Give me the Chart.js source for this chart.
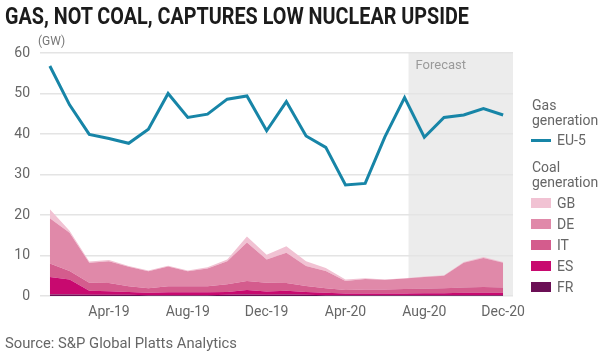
<!DOCTYPE html>
<html>
<head>
<meta charset="utf-8">
<script src="https://cdn.jsdelivr.net/npm/chart.js@4.4.1/dist/chart.umd.min.js"></script>
<style>
  body { margin: 0; background: #fff; font-family: Roboto, sans-serif; }
  #wrap { position: relative; width: 610px; height: 358px; overflow: hidden; }
  canvas { position: absolute; left: 0; top: 0; }
  .txt { position: absolute; white-space: nowrap; transform-origin: 0 0; }
  #title { left: 5px; top: 4px; font-weight: bold; font-size: 24px; line-height: 24px; color: #1b1b1b; }
  #source { left: 5px; top: 336px; font-size: 14px; line-height: 14px; color: #666; }
  #unit { left: 38px; top: 35px; font-size: 12px; line-height: 12px; color: #777; }
  .leg { position: absolute; left: 532px; font-size: 14px; line-height: 15px; color: #666; white-space: nowrap; }
  .sw { position: absolute; left: 531px; width: 20px; }
</style>
</head>
<body>
<div id="wrap">
  <canvas id="chart" width="610" height="358"></canvas>
  <div id="title" class="txt">GAS, NOT COAL, CAPTURES LOW NUCLEAR UPSIDE</div>
  <div id="unit" class="txt">(GW)</div>
  <div id="source" class="txt">Source: S&amp;P Global Platts Analytics</div>
  <div id="legend"></div>
</div>
<script>
const months = ['Jan-19', 'Feb-19', 'Mar-19', 'Apr-19', 'May-19', 'Jun-19', 'Jul-19', 'Aug-19',
    'Sep-19', 'Oct-19', 'Nov-19', 'Dec-19', 'Jan-20', 'Feb-20', 'Mar-20', 'Apr-20',
    'May-20', 'Jun-20', 'Jul-20', 'Aug-20', 'Sep-20', 'Oct-20', 'Nov-20', 'Dec-20'];

// gas generation, EU-5 (GW)
const gasEU5 = [56.8, 47.2, 39.9, 38.9, 37.7, 41.2, 50.0, 44.1, 44.9, 48.6, 49.4, 40.8,
    48.0, 39.5, 36.7, 27.4, 27.8, 39.3, 49.0, 39.2, 44.1, 44.7, 46.3, 44.7];

// coal generation by country (GW), stacked bottom to top: FR, ES, IT, DE, GB
const coalFR = [0.4, 0.4, 0.3, 0.3, 0.3, 0.2, 0.2, 0.2, 0.2, 0.3, 0.4, 0.3,
    0.4, 0.3, 0.2, 0.2, 0.2, 0.2, 0.2, 0.2, 0.2, 0.2, 0.2, 0.2];
const coalES = [4.3, 3.7, 1.0, 0.9, 0.7, 0.6, 0.7, 0.7, 0.7, 0.7, 1.1, 0.8,
    0.9, 0.7, 0.6, 0.4, 0.4, 0.4, 0.4, 0.5, 0.5, 0.6, 0.6, 0.6];
const coalIT = [3.3, 2.1, 2.0, 2.0, 1.4, 1.1, 1.5, 1.5, 1.5, 1.9, 2.2, 2.2,
    1.9, 1.5, 1.1, 0.9, 1.0, 1.0, 1.1, 1.1, 1.2, 1.3, 1.4, 1.3];
const coalDE = [11.2, 9.4, 4.9, 5.4, 4.8, 4.2, 4.9, 3.7, 4.4, 5.7, 9.5, 5.7,
    7.5, 4.9, 4.3, 2.2, 2.6, 2.4, 2.6, 2.9, 3.1, 6.1, 7.2, 6.1];
const coalGB = [2.2, 0.5, 0.3, 0.3, 0.2, 0.2, 0.2, 0.2, 0.3, 0.4, 1.5, 1.2,
    1.6, 1.2, 0.7, 0.4, 0.2, 0.1, 0.1, 0.1, 0.1, 0.2, 0.2, 0.2];

const yTicks = [0, 10, 20, 30, 40, 50, 60];
const forecastStart = 18.2; // category position where the forecast shading starts

const gasColor = '#1785a7';
const coalSeries = [
    { label: 'FR', data: coalFR, color: '#6b0f55' },
    { label: 'ES', data: coalES, color: '#c8096f' },
    { label: 'IT', data: coalIT, color: '#d45c8d' },
    { label: 'DE', data: coalDE, color: '#e089a9' },
    { label: 'GB', data: coalGB, color: '#f1c2d3' }
];

const forecastPlugin = {
    id: 'forecast',
    beforeDraw(chart) {
        const { ctx, chartArea, scales } = chart;
        const x0 = scales.x.getPixelForValue(18);
        const x1 = scales.x.getPixelForValue(19);
        const left = x0 + (x1 - x0) * (forecastStart - 18);
        ctx.save();
        ctx.fillStyle = '#ececec';
        ctx.fillRect(left, chartArea.top - 1, chartArea.right - left, chartArea.bottom - chartArea.top + 1);
        ctx.fillStyle = '#9a9a9a';
        ctx.font = '13px Roboto';
        ctx.textBaseline = 'middle';
        ctx.fillText('Forecast', left + 7, chartArea.top + 13);
        ctx.restore();
    }
};

const datasets = [{
    label: 'EU-5',
    data: gasEU5,
    stack: 'gas',
    borderColor: gasColor,
    borderWidth: 3,
    pointRadius: 0,
    fill: false,
    tension: 0
}].concat(coalSeries.map((s, i) => ({
    label: s.label,
    data: s.data,
    stack: 'coal',
    borderWidth: 0,
    borderColor: s.color,
    backgroundColor: s.color,
    pointRadius: 0,
    fill: i === 0 ? 'origin' : '-1',
    tension: 0
})));

const tickFont = { family: 'Roboto', size: 14 };

new Chart(document.getElementById('chart'), {
    type: 'line',
    data: { labels: months, datasets: datasets },
    options: {
        responsive: false,
        animation: false,
        layout: { padding: { left: 0, right: 97, top: 53, bottom: 0 } },
        plugins: { legend: { display: false }, tooltip: { enabled: false } },
        scales: {
            x: {
                offset: true,
                grid: { display: false, drawTicks: false },
                border: { display: false },
                ticks: {
                    autoSkip: false,
                    maxRotation: 0,
                    padding: 8,
                    color: '#666',
                    font: tickFont,
                    callback: (v, i) => (i % 4 === 3 ? months[i] : '')
                },
                afterFit: s => { s.height = 62; }
            },
            y: {
                stacked: true,
                min: 0,
                max: 60,
                afterBuildTicks: s => { s.ticks = yTicks.map(v => ({ value: v })); },
                ticks: { padding: 10, color: '#666', font: tickFont },
                grid: { color: '#e4e4e4', lineWidth: 1.5, drawTicks: false },
                border: { display: false },
                afterFit: s => { s.width = 40; }
            }
        }
    },
    plugins: [forecastPlugin]
});

// legend
const legend = document.getElementById('legend');
function addText(text, centerY, left) {
    const d = document.createElement('div');
    d.className = 'leg';
    d.textContent = text;
    d.style.top = (centerY - 7.3) + 'px';
    if (left) d.style.left = left + 'px';
    legend.appendChild(d);
}
function addSwatch(color, centerY, h) {
    const d = document.createElement('div');
    d.className = 'sw';
    d.style.background = color;
    d.style.height = h + 'px';
    d.style.top = (centerY - h / 2) + 'px';
    legend.appendChild(d);
}
addText('Gas', 105);
addText('generation', 120);
addSwatch(gasColor, 140, 3);
addText('EU-5', 140, 557);
addText('Coal', 167);
addText('generation', 182);
const legendRows = coalSeries.slice().reverse();
legendRows.forEach((s, i) => {
    const cy = 203 + i * 21;
    addSwatch(s.color, cy, 10);
    addText(s.label, cy, 557);
});

// fit condensed headline and source widths
function fitWidth(id, w) {
    const el = document.getElementById(id);
    el.style.transform = 'scaleX(' + (w / el.getBoundingClientRect().width) + ')';
}
fitWidth('title', 464);
fitWidth('source', 232);
</script>
</body>
</html>
